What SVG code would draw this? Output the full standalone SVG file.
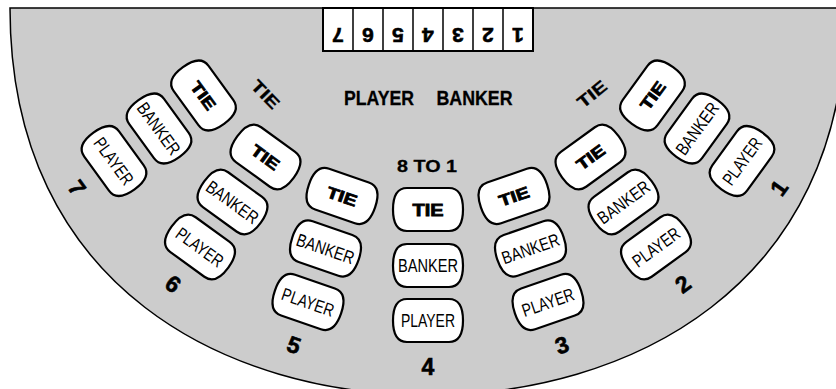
<svg xmlns="http://www.w3.org/2000/svg" xmlns:xlink="http://www.w3.org/1999/xlink" width="836" height="389" viewBox="0 0 836 389">
<style>
.table{fill:#cccccc;stroke:#000;stroke-width:1.5}
.bx{fill:#fff;stroke:#000;stroke-width:2.2}
.t{font-family:"Liberation Sans",Arial,sans-serif;text-anchor:middle;fill:#000}
.tie{font-weight:bold;font-size:16px;stroke:#000;stroke-width:0.8}
.lbl{font-size:18px}
.num{font-weight:bold;font-size:23px;stroke:#000;stroke-width:0.6}
.hdr{font-weight:bold;font-size:20px;stroke:#000;stroke-width:0.3}
.cell{fill:#fff;stroke:#000;stroke-width:2}
.div{stroke:#000;stroke-width:1.5}
</style>
<defs>
<path id="box" d="M-21,-21.5 H21 C31,-21.5 35,-14 35,0 C35,14 31,21.5 21,21.5 H-21 C-31,21.5 -35,14 -35,0 C-35,-14 -31,-21.5 -21,-21.5 Z"/>
</defs>
<path class="table" d="M10,8 C10,290 230,395 428,395 C626,395 846,290 846,8 Z"/>
<g id="discard-tray">
<rect class="cell" x="323" y="8" width="210" height="43"/>
<path class="div" d="M353,8V51M383,8V51M413,8V51M443,8V51M473,8V51M503,8V51"/>
<text class="t num" style="font-size:21px" transform="translate(338,35.5) rotate(180)" y="7.5">7</text>
<text class="t num" style="font-size:21px" transform="translate(368,35.5) rotate(180)" y="7.5">6</text>
<text class="t num" style="font-size:21px" transform="translate(398,35.5) rotate(180)" y="7.5">5</text>
<text class="t num" style="font-size:21px" transform="translate(428,35.5) rotate(180)" y="7.5">4</text>
<text class="t num" style="font-size:21px" transform="translate(458,35.5) rotate(180)" y="7.5">3</text>
<text class="t num" style="font-size:21px" transform="translate(488,35.5) rotate(180)" y="7.5">2</text>
<text class="t num" style="font-size:21px" transform="translate(518,35.5) rotate(180)" y="7.5">1</text>
</g>
<g id="header">
<text class="t hdr" x="379" y="105" textLength="70" lengthAdjust="spacingAndGlyphs">PLAYER</text>
<text class="t hdr" x="474.5" y="105" textLength="76" lengthAdjust="spacingAndGlyphs">BANKER</text>
<text class="t hdr" style="font-size:17px" x="427" y="172" textLength="60" lengthAdjust="spacingAndGlyphs">8 TO 1</text>
<text class="t hdr" style="font-size:17px" transform="translate(265.5,94.5) rotate(46)" y="6" textLength="33" lengthAdjust="spacingAndGlyphs">TIE</text>
<text class="t hdr" style="font-size:17px" transform="translate(592,94) rotate(-39)" y="6" textLength="33" lengthAdjust="spacingAndGlyphs">TIE</text>
</g>
<g id="spot1">
<g id="spot1-tie" transform="translate(652.5,95.5) rotate(-54)"><use href="#box" class="bx"/><text class="t tie" y="6" textLength="31" lengthAdjust="spacingAndGlyphs">TIE</text></g>
<g id="spot1-banker" transform="translate(697,128.5) rotate(-54)"><use href="#box" class="bx"/><text class="t lbl" y="6.5" textLength="60" lengthAdjust="spacingAndGlyphs">BANKER</text></g>
<g id="spot1-player" transform="translate(742,161) rotate(-54)"><use href="#box" class="bx"/><text class="t lbl" y="6.5" textLength="54" lengthAdjust="spacingAndGlyphs">PLAYER</text></g>
<text class="t num" transform="translate(779,188) rotate(-54)" y="8">1</text>
</g>
<g id="spot2">
<g id="spot2-tie" transform="translate(590.5,157) rotate(-36)"><use href="#box" class="bx"/><text class="t tie" y="6" textLength="31" lengthAdjust="spacingAndGlyphs">TIE</text></g>
<g id="spot2-banker" transform="translate(623.5,202) rotate(-36)"><use href="#box" class="bx"/><text class="t lbl" y="6.5" textLength="60" lengthAdjust="spacingAndGlyphs">BANKER</text></g>
<g id="spot2-player" transform="translate(656,247) rotate(-36)"><use href="#box" class="bx"/><text class="t lbl" y="6.5" textLength="54" lengthAdjust="spacingAndGlyphs">PLAYER</text></g>
<text class="t num" transform="translate(683,284) rotate(-36)" y="8">2</text>
</g>
<g id="spot3">
<g id="spot3-tie" transform="translate(514,196) rotate(-19)"><use href="#box" class="bx"/><text class="t tie" y="6" textLength="31" lengthAdjust="spacingAndGlyphs">TIE</text></g>
<g id="spot3-banker" transform="translate(530.5,248.5) rotate(-19)"><use href="#box" class="bx"/><text class="t lbl" y="6.5" textLength="60" lengthAdjust="spacingAndGlyphs">BANKER</text></g>
<g id="spot3-player" transform="translate(548,302) rotate(-19)"><use href="#box" class="bx"/><text class="t lbl" y="6.5" textLength="54" lengthAdjust="spacingAndGlyphs">PLAYER</text></g>
<text class="t num" transform="translate(562,345) rotate(-19)" y="8">3</text>
</g>
<g id="spot4">
<g id="spot4-tie" transform="translate(428,209.5)"><use href="#box" class="bx"/><text class="t tie" y="6" textLength="31" lengthAdjust="spacingAndGlyphs">TIE</text></g>
<g id="spot4-banker" transform="translate(428,265.5)"><use href="#box" class="bx"/><text class="t lbl" y="6.5" textLength="60" lengthAdjust="spacingAndGlyphs">BANKER</text></g>
<g id="spot4-player" transform="translate(428,320.5)"><use href="#box" class="bx"/><text class="t lbl" y="6.5" textLength="54" lengthAdjust="spacingAndGlyphs">PLAYER</text></g>
<text class="t num" x="428" y="375">4</text>
</g>
<g id="spot5">
<g id="spot5-tie" transform="translate(342,196) rotate(19)"><use href="#box" class="bx"/><text class="t tie" y="6" textLength="31" lengthAdjust="spacingAndGlyphs">TIE</text></g>
<g id="spot5-banker" transform="translate(325.5,248.5) rotate(19)"><use href="#box" class="bx"/><text class="t lbl" y="6.5" textLength="60" lengthAdjust="spacingAndGlyphs">BANKER</text></g>
<g id="spot5-player" transform="translate(308,302) rotate(19)"><use href="#box" class="bx"/><text class="t lbl" y="6.5" textLength="54" lengthAdjust="spacingAndGlyphs">PLAYER</text></g>
<text class="t num" transform="translate(294,345) rotate(19)" y="8">5</text>
</g>
<g id="spot6">
<g id="spot6-tie" transform="translate(265.5,157) rotate(36)"><use href="#box" class="bx"/><text class="t tie" y="6" textLength="31" lengthAdjust="spacingAndGlyphs">TIE</text></g>
<g id="spot6-banker" transform="translate(232.5,202) rotate(36)"><use href="#box" class="bx"/><text class="t lbl" y="6.5" textLength="60" lengthAdjust="spacingAndGlyphs">BANKER</text></g>
<g id="spot6-player" transform="translate(200,247) rotate(36)"><use href="#box" class="bx"/><text class="t lbl" y="6.5" textLength="54" lengthAdjust="spacingAndGlyphs">PLAYER</text></g>
<text class="t num" transform="translate(173,284) rotate(36)" y="8">6</text>
</g>
<g id="spot7">
<g id="spot7-tie" transform="translate(203.5,95.5) rotate(54)"><use href="#box" class="bx"/><text class="t tie" y="6" textLength="31" lengthAdjust="spacingAndGlyphs">TIE</text></g>
<g id="spot7-banker" transform="translate(159,128.5) rotate(54)"><use href="#box" class="bx"/><text class="t lbl" y="6.5" textLength="60" lengthAdjust="spacingAndGlyphs">BANKER</text></g>
<g id="spot7-player" transform="translate(114,161) rotate(54)"><use href="#box" class="bx"/><text class="t lbl" y="6.5" textLength="54" lengthAdjust="spacingAndGlyphs">PLAYER</text></g>
<text class="t num" transform="translate(77,188) rotate(54)" y="8">7</text>
</g>
</svg>
